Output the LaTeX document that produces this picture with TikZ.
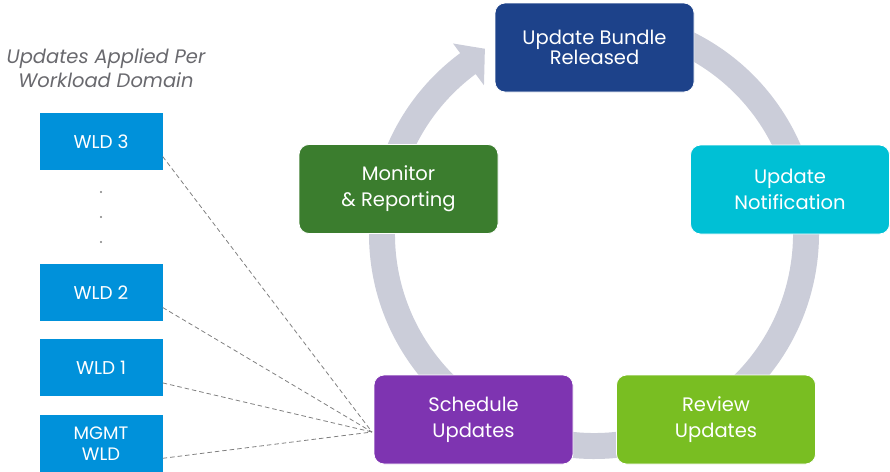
\documentclass[tikz,border=0pt]{standalone}
\usepackage{fontspec}
\setmainfont{Poppins}
\usetikzlibrary{positioning}

\definecolor{bundleblue}{RGB}{29,66,138}
\definecolor{notifcyan}{RGB}{0,192,213}
\definecolor{reviewgreen}{RGB}{121,190,34}
\definecolor{schedpurple}{RGB}{126,52,177}
\definecolor{monitorgreen}{RGB}{59,125,46}
\definecolor{wldblue}{RGB}{0,145,218}
\definecolor{ringgray}{RGB}{203,205,217}
\definecolor{titlegray}{RGB}{105,105,110}

\tikzset{
  phase/.style={rounded corners=10pt, minimum width=199pt, minimum height=89pt,
    inner sep=0pt, align=center, text=white, draw=white, line width=0.8pt,
    font=\fontsize{19.5}{26}\selectfont},
  wldbox/.style={fill=wldblue, minimum width=123pt, minimum height=57pt,
    inner sep=0pt, align=center, text=white, font=\fontsize{18.5}{21}\selectfont},
  feed/.style={draw=gray, line width=0.8pt, dash pattern=on 4.5pt off 3pt}
}

\begin{document}
\begin{tikzpicture}[x=1pt,y=-1pt]
\useasboundingbox (0,0) rectangle (890,471);

% cycle ring with its arrow head
\begin{scope}[shift={(594,234)},y=1pt]
\fill[ringgray] (126.5:225) arc[start angle=126.5, end angle=440, radius=225]
  -- (440:199) arc[start angle=440, end angle=126.5, radius=199]
  -- (126.5:185) -- (120.5:215) -- (126.5:237) -- cycle;
\end{scope}

% workload domains
\node[font=\itshape\fontsize{19.5}{24}\selectfont, text=titlegray, align=center] (title) at (106,68)
  {Updates Applied Per\\Workload Domain};
\node[wldbox] (wld3) at (101,141.5) {WLD 3};
\node[wldbox] (wld2) at (101,292.5) {WLD 2};
\node[wldbox, below=18pt of wld2] (wld1) {WLD 1};
\node[wldbox, below=18pt of wld1, font=\fontsize{18}{21}\selectfont] (mgmt) {MGMT\\WLD};
\foreach \y in {192,217,242}
  \fill[gray] (101,\y) circle (1.2);

% phases
\node[phase, fill=bundleblue, font=\fontsize{19.5}{18.5}\selectfont] (bundle) at (594.5,47.5) {Update Bundle\\Released};
\node[phase, fill=notifcyan] (notif) at (790,189.5) {Update\\Notification};
\node[phase, fill=reviewgreen] (review) at (716,419.5) {Review\\Updates};
\node[phase, fill=monitorgreen] (monitor) at (398.5,189) {Monitor\\\& Reporting};

\coordinate (hub) at (372,432);
\foreach \w in {wld3,wld2,wld1,mgmt}
  \draw[feed] ([yshift=-15pt]\w.east) -- (hub);

\node[phase, fill=schedpurple] (sched) at (473.5,419.5) {Schedule\\Updates};
\end{tikzpicture}
\end{document}
